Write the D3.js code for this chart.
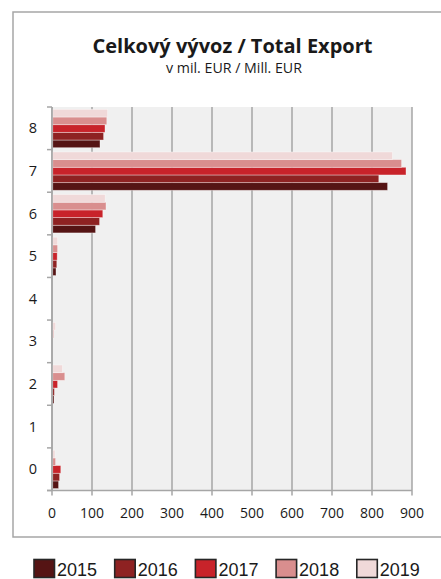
<!DOCTYPE html>
<html><head><meta charset="utf-8">
<script src="https://cdn.jsdelivr.net/npm/d3@7"></script>
<style>body{margin:0;background:#fff}svg{display:block}</style>
</head><body>
<script>
const categories = ["0","1","2","3","4","5","6","7","8"];
const years = ["2015","2016","2017","2018","2019"];
const v2015 = [16.5, 0, 5, 0, 0, 10, 109, 839, 120];
const v2016 = [19, 0, 6, 0, 0, 12, 119, 817, 129];
const v2017 = [22, 0, 14, 1, 0, 13, 127, 885, 132.5];
const v2018 = [9, 0, 32, 4, 0, 14, 135, 874, 137];
const v2019 = [7.5, 0, 26, 9, 0, 14, 133, 851, 139];
const xTicks = [0,100,200,300,400,500,600,700,800,900];
const colors = ["#551414","#8e2222","#c8232a","#d98e8e","#f0d9d9"];
const series = [v2015, v2016, v2017, v2018, v2019];

const W = 441, H = 579;
const svg = d3.select("body").append("svg").attr("width", W).attr("height", H);
const font = "'Open Sans', sans-serif";

// outer frame
svg.append("rect").attr("x",13).attr("y",12).attr("width",450).attr("height",525)
  .attr("fill","#fff").attr("stroke","#a6a6a6").attr("stroke-width",1.5);

svg.append("text").attr("x",232.5).attr("y",53).attr("text-anchor","middle")
  .attr("font-family",font).attr("font-weight","bold").attr("font-size",20).attr("fill","#1a1a1a")
  .text("Celkový vývoz / Total Export");
svg.append("text").attr("x",234).attr("y",72.5).attr("text-anchor","middle")
  .attr("font-family",font).attr("font-size",14.2).attr("fill","#1a1a1a")
  .text("v mil. EUR / Mill. EUR");

const L = 52, R = 412, T = 107, B = 490.5;
const x = d3.scaleLinear().domain([0,900]).range([L,R]);
const y = d3.scaleBand().domain(categories.slice().reverse()).range([T,B]).padding(0);
const ys = d3.scaleBand().domain(years.slice().reverse()).range([y.bandwidth()*0.055, y.bandwidth()*0.955]).padding(0);

svg.append("rect").attr("x",L).attr("y",T).attr("width",R-L).attr("height",B-T).attr("fill","#f0f0f0");

// gridlines
svg.append("g").selectAll("line").data(xTicks).join("line")
  .attr("x1",d=>x(d)).attr("x2",d=>x(d)).attr("y1",T).attr("y2",B+5)
  .attr("stroke","#a6a6a6").attr("stroke-width",1.5);

// bars
const g = svg.append("g");
categories.forEach((c,i)=>{
  years.forEach((yr,j)=>{
    const v = series[j][i];
    if (v <= 0) return;
    g.append("rect").attr("x",x(0)+0.75).attr("y",y(c)+ys(yr))
      .attr("width",Math.max(0,x(v)-x(0)-0.75)).attr("height",ys.bandwidth())
      .attr("fill",colors[j]).attr("stroke","rgba(255,255,255,0.45)").attr("stroke-width",0.8);
  });
});

// axes
svg.append("line").attr("x1",L).attr("x2",L).attr("y1",T).attr("y2",B).attr("stroke","#a6a6a6").attr("stroke-width",1.5);
svg.append("line").attr("x1",L-5).attr("x2",R).attr("y1",B).attr("y2",B).attr("stroke","#a6a6a6").attr("stroke-width",1.5);
const bounds = categories.map(c=>y(c)).concat([B]);
svg.append("g").selectAll("line").data(bounds).join("line")
  .attr("x1",L-5).attr("x2",L).attr("y1",d=>d).attr("y2",d=>d)
  .attr("stroke","#a6a6a6").attr("stroke-width",1.5);
svg.append("g").selectAll("text").data(categories).join("text")
  .attr("x",33).attr("y",d=>y(d)+y.bandwidth()/2+5).attr("text-anchor","middle")
  .attr("font-family",font).attr("font-size",14.5).attr("fill","#1a1a1a").text(d=>d);
svg.append("g").selectAll("text").data(xTicks).join("text")
  .attr("x",d=>x(d)).attr("y",518).attr("text-anchor","middle")
  .attr("font-family",font).attr("font-size",14).attr("fill","#1a1a1a").text(d=>d);

// legend
const lg = svg.append("g");
years.forEach((yr,j)=>{
  const lx = 34 + j*80.7;
  lg.append("rect").attr("x",lx).attr("y",559.5).attr("width",20.5).attr("height",18)
    .attr("fill",colors[j]).attr("stroke","#262626").attr("stroke-width",1.6);
  lg.append("text").attr("x",lx+23).attr("y",575.5).attr("font-family","'Liberation Sans', Arial, sans-serif")
    .attr("font-size",18).attr("fill","#1a1a1a").text(yr);
});
</script>
</body></html>
